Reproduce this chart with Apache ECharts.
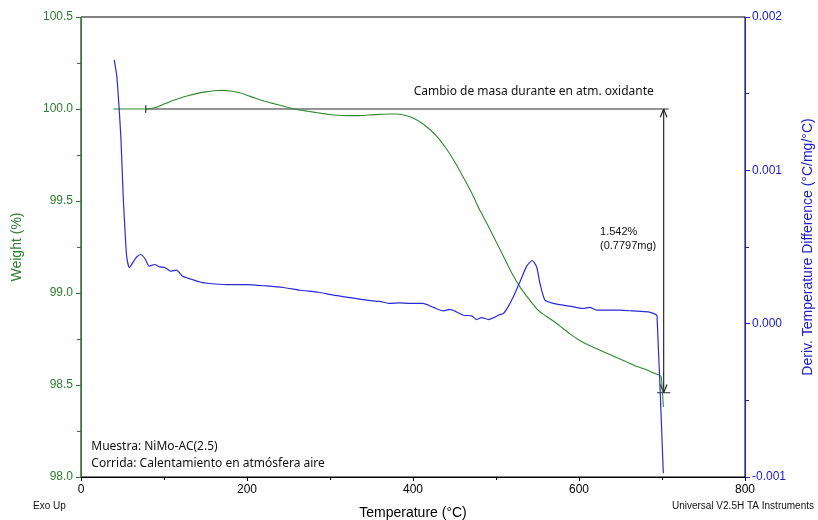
<!DOCTYPE html>
<html>
<head>
<meta charset="utf-8">
<script src="https://cdn.jsdelivr.net/npm/echarts@6/dist/echarts.min.js"></script>
<style>
  html, body { margin: 0; padding: 0; background: #fff; overflow: hidden; }
  #chart { width: 818px; height: 520px; }
</style>
</head>
<body>
<div id="chart"></div>
<script>
// TGA weight curve (%), temperature in °C
const weightTemp = [39, 50, 60, 70, 80, 90, 100, 110, 120, 130, 140, 150, 160, 170, 180, 190, 200, 210, 220, 230, 240, 250, 260, 270, 280, 290, 300, 310, 320, 330, 340, 350, 360, 370, 380, 390, 400, 410, 420, 430, 440, 450, 460, 470, 480, 490, 500, 510, 520, 530, 540, 550, 560, 570, 580, 590, 600, 610, 620, 630, 640, 650, 660, 670, 680, 690, 696, 699, 701.6];
const weightPct  = [100.0, 100.0, 100.0, 100.0, 100.0, 100.008, 100.027, 100.045, 100.06, 100.073, 100.085, 100.093, 100.099, 100.101, 100.098, 100.09, 100.075, 100.058, 100.044, 100.032, 100.02, 100.008, 99.997, 99.99, 99.983, 99.976, 99.97, 99.966, 99.964, 99.964, 99.965, 99.968, 99.971, 99.973, 99.973, 99.966, 99.951, 99.925, 99.89, 99.845, 99.785, 99.715, 99.635, 99.55, 99.455, 99.37, 99.28, 99.19, 99.1, 99.025, 98.965, 98.91, 98.875, 98.845, 98.81, 98.775, 98.745, 98.72, 98.7, 98.68, 98.66, 98.64, 98.62, 98.6, 98.585, 98.565, 98.555, 98.545, 98.38];

// Derivative of temperature difference (°C/mg/°C)
const dtdTemp = [40, 43, 45, 48, 51, 53, 55, 58.2, 63, 67, 71.9, 77, 82.3, 89, 95, 101, 108, 115, 122.5, 133, 143, 155, 175.5, 199.6, 223.7, 243.8, 264, 286, 304, 324, 344, 360, 372, 384, 396, 412, 424.5, 436.5, 444.6, 452, 460.6, 470.7, 476.7, 482.8, 490.8, 496, 502.8, 508.8, 514, 520.9, 529, 537, 543.5, 549, 553, 559, 569, 579, 589, 605, 613, 621, 635, 649, 665, 683.5, 691.6, 694, 701.6];
const dtdVal  = [0.00172, 0.00162, 0.00148, 0.00122, 0.00081, 0.00061, 0.00044, 0.000366, 0.000403, 0.000435, 0.000451, 0.000425, 0.000375, 0.000386, 0.00037, 0.000366, 0.000342, 0.000349, 0.000309, 0.00029, 0.000272, 0.000262, 0.000255, 0.000255, 0.000246, 0.000236, 0.000218, 0.000205, 0.000186, 0.00017, 0.000153, 0.000145, 0.000132, 0.000136, 0.000132, 0.000132, 0.000106, 0.000083, 0.000093, 0.000078, 0.000055, 0.000051, 0.000027, 0.00004, 0.000027, 0.000036, 0.000055, 0.000066, 0.000105, 0.000175, 0.000275, 0.000375, 0.000412, 0.00037, 0.000262, 0.000153, 0.000132, 0.000122, 0.000114, 0.000099, 0.000106, 0.000088, 0.000088, 0.000088, 0.000083, 0.000077, 0.000062, 0.00005, -0.000975];

// Step analysis: mass change between two temperatures
const stepStartT = 78;
const stepEndT = 702;
const stepLineEndT = 708;
const stepTopPct = 100.0;
const stepLossPct = 1.542;
const stepLossMg = 0.7797;
const stepBottomPct = +(stepTopPct - stepLossPct).toFixed(3);

// Axis ranges / ticks
const xTicks = { min: 0, max: 800, interval: 200 };
const weightTicks = { min: 98.0, max: 100.5, interval: 0.5 };
const dtdTicks = { min: -0.001, max: 0.002, interval: 0.001 };

const GREEN = '#2f8a2f';
const GREEN_AXIS = '#2e7d32';
const BLUE = '#2a2ad8';
const BLUE_AXIS = '#2020c8';

const zip = (a, b) => a.map((v, i) => [v, b[i]]);

const chart = echarts.init(document.getElementById('chart'), null, { renderer: 'canvas' });

const stepLineStyle = { color: '#2a2a2a', width: 1.2 };
const stepSeries = (name, pts) => ({
  name, type: 'line', xAxisIndex: 0, yAxisIndex: 0, data: pts,
  symbol: 'none', silent: true, animation: false,
  lineStyle: stepLineStyle, z: 5
});

chart.setOption({
  animation: false,
  textStyle: { fontFamily: 'Liberation Sans, Arial, sans-serif' },
  grid: {
    left: 81, right: 73, top: 17, bottom: 43, containLabel: false,
    outerBoundsMode: 'none',
    show: true, borderColor: '#000', borderWidth: 1, backgroundColor: 'transparent'
  },
  xAxis: {
    type: 'value', min: xTicks.min, max: xTicks.max, interval: xTicks.interval,
    name: 'Temperature (°C)', nameLocation: 'middle', nameGap: 29,
    nameTextStyle: { fontSize: 14, color: '#000' },
    axisLine: { show: true, onZero: false, lineStyle: { color: '#000', width: 1 } },
    axisTick: { show: true, length: 4, lineStyle: { color: '#000' } },
    minorTick: { show: true, splitNumber: 2, length: 3, lineStyle: { color: '#000' } },
    axisLabel: { color: '#000', fontSize: 12, margin: 7 },
    splitLine: { show: false }
  },
  yAxis: [{
    type: 'value', position: 'left', min: weightTicks.min, max: weightTicks.max, interval: weightTicks.interval,
    name: 'Weight (%)', nameLocation: 'middle', nameGap: 57, nameRotate: 90,
    nameTextStyle: { fontSize: 14, color: GREEN_AXIS },
    axisLine: { show: true, onZero: false, lineStyle: { color: GREEN_AXIS, width: 1 } },
    axisTick: { show: true, length: 5, lineStyle: { color: GREEN_AXIS } },
    minorTick: { show: true, splitNumber: 2, length: 4, lineStyle: { color: GREEN_AXIS } },
    axisLabel: { color: GREEN_AXIS, fontSize: 12, margin: 8, formatter: v => v.toFixed(1) },
    splitLine: { show: false }
  }, {
    type: 'value', position: 'right', min: dtdTicks.min, max: dtdTicks.max, interval: dtdTicks.interval,
    name: 'Deriv. Temperature Difference (°C/mg/°C)', nameLocation: 'middle', nameGap: 56, nameRotate: 90,
    nameTextStyle: { fontSize: 14, color: BLUE_AXIS },
    axisLine: { show: true, onZero: false, lineStyle: { color: BLUE_AXIS, width: 1 } },
    axisTick: { show: true, length: 5, lineStyle: { color: BLUE_AXIS } },
    minorTick: { show: true, splitNumber: 2, length: 4, lineStyle: { color: BLUE_AXIS } },
    axisLabel: { color: BLUE_AXIS, fontSize: 12, margin: 7, formatter: v => v.toFixed(3) },
    splitLine: { show: false }
  }],
  series: [
    stepSeries('step-level', [[stepStartT, stepTopPct], [stepLineEndT, stepTopPct]]),
    stepSeries('step-start-tick', [[stepStartT, stepTopPct + 0.02], [stepStartT, stepTopPct - 0.02]]),
    stepSeries('step-drop', [[stepEndT, stepTopPct], [stepEndT, stepBottomPct]]),
    stepSeries('step-bottom-tick', [[stepEndT - 8, stepBottomPct], [stepEndT + 8, stepBottomPct]]),
    stepSeries('arrow-top', [[stepEndT - 4, stepTopPct - 0.045], [stepEndT, stepTopPct], [stepEndT + 4, stepTopPct - 0.045]]),
    stepSeries('arrow-bottom', [[stepEndT - 4, stepBottomPct + 0.045], [stepEndT, stepBottomPct], [stepEndT + 4, stepBottomPct + 0.045]]),
    {
      name: 'Weight', type: 'line', xAxisIndex: 0, yAxisIndex: 0,
      data: zip(weightTemp, weightPct), smooth: 0.25, symbol: 'none',
      lineStyle: { color: GREEN, width: 1.1 }, z: 6
    },
    {
      name: 'Deriv. Temperature Difference', type: 'line', xAxisIndex: 0, yAxisIndex: 1,
      data: zip(dtdTemp, dtdVal), smooth: 0.2, symbol: 'none',
      lineStyle: { color: BLUE, width: 1.2 }, z: 7
    }
  ]
});

// Text annotations anchored to data coordinates
const px = (t, w) => chart.convertToPixel({ xAxisIndex: 0, yAxisIndex: 0 }, [t, w]);
const topRight = px(stepEndT - 12, stepTopPct);
const midDrop = px(stepEndT - 8, (stepTopPct + stepBottomPct) / 2 + 0.07);
const origin = px(10, 98.0);

chart.setOption({
  graphic: [
    {
      type: 'text', left: topRight[0] - 240, top: topRight[1] - 23,
      style: { text: 'Cambio de masa durante en atm. oxidante', font: '12px "Noto Sans", "Open Sans", sans-serif', fill: '#111' }
    },
    {
      type: 'text', left: midDrop[0] - 57, top: midDrop[1] - 13,
      style: { text: stepLossPct.toFixed(3) + '%\n(' + stepLossMg.toFixed(4) + 'mg)', font: '11px "Liberation Sans", Arial, sans-serif', fill: '#111', lineHeight: 14 }
    },
    {
      type: 'text', left: origin[0] + 2, top: origin[1] - 39,
      style: { text: 'Muestra: NiMo-AC(2.5)\nCorrida: Calentamiento en atmósfera aire', font: '12px "Noto Sans", "Open Sans", sans-serif', fill: '#111', lineHeight: 17 }
    },
    {
      type: 'text', left: 33, top: 501,
      style: { text: 'Exo Up', font: '10px "Liberation Sans", Arial, sans-serif', fill: '#111' }
    },
    {
      type: 'text', right: 4, top: 501,
      style: { text: 'Universal V2.5H TA Instruments', font: '10px "Liberation Sans", Arial, sans-serif', fill: '#111' }
    }
  ]
});
</script>
</body>
</html>
